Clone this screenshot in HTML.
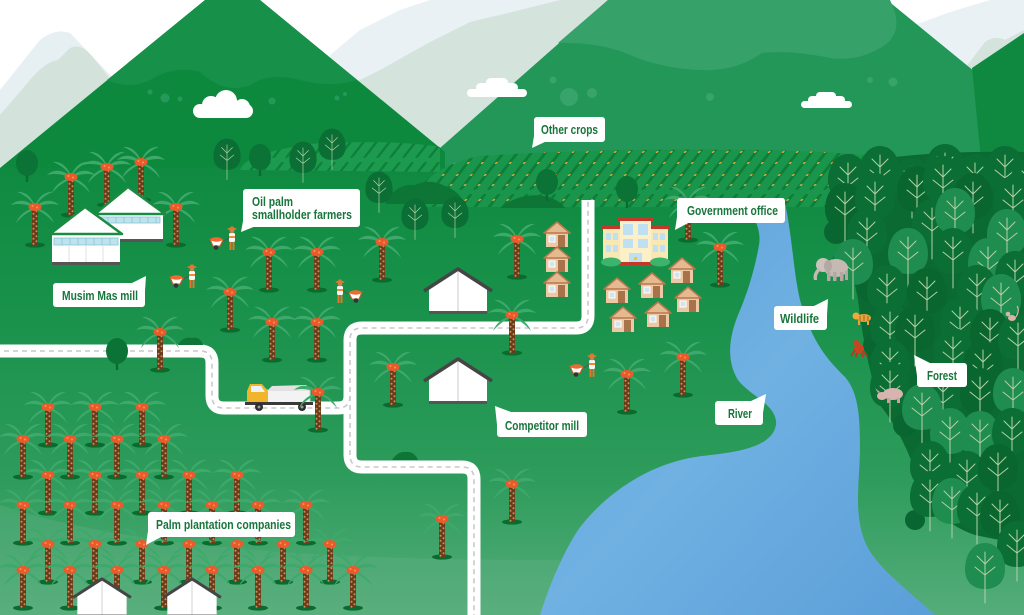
<!DOCTYPE html>
<html><head><meta charset="utf-8"><style>
html,body{margin:0;padding:0;background:#fff;}
svg{display:block;}
.lb{font-family:"Liberation Sans Narrow","Liberation Sans",sans-serif;font-weight:bold;font-size:13px;fill:#17763b;}
</style></head><body>
<svg width="1024" height="615" viewBox="0 0 1024 615" xmlns="http://www.w3.org/2000/svg">
<defs>
<linearGradient id="gr" x1="0" y1="165" x2="0" y2="615" gradientUnits="userSpaceOnUse">
<stop offset="0" stop-color="#0f8a40"/><stop offset=".35" stop-color="#1a924c"/><stop offset=".7" stop-color="#2e9c5c"/><stop offset="1" stop-color="#55ad7a"/>
</linearGradient>
<linearGradient id="rv" x1="0" y1="0" x2="1" y2="1">
<stop offset="0" stop-color="#5a9fd8"/><stop offset=".5" stop-color="#70b1e2"/><stop offset="1" stop-color="#5b9fd9"/>
</linearGradient>
<pattern id="bark" width="6" height="5" patternUnits="userSpaceOnUse"><rect width="6" height="5" fill="#6b3c1c"/><circle cx="1.5" cy="1.3" r="1" fill="#c89057"/><circle cx="4.5" cy="3.8" r="1" fill="#c89057"/></pattern>
<pattern id="crop" width="14" height="48" patternUnits="userSpaceOnUse" patternTransform="skewX(-38)">
<rect x="5" y="2" width="3.5" height="44" rx="1.7" fill="#0d7d37"/>
<circle cx="6" cy="8" r="1.1" fill="#f2a53a"/><circle cx="7.5" cy="19" r="1.1" fill="#f2a53a"/><circle cx="6" cy="31" r="1.1" fill="#f2a53a"/><circle cx="7.5" cy="41" r="1.1" fill="#f2a53a"/>
</pattern>
<pattern id="crop2" width="13" height="40" patternUnits="userSpaceOnUse" patternTransform="skewX(-38)">
<rect x="5" y="2" width="3" height="36" rx="1.5" fill="#0e8039"/>
</pattern>
<g id="palm">
 <ellipse cx="0" cy="0" rx="10" ry="2.6" fill="#0a6b2f"/>
 <g fill="#3ea96b">
  <path d="M0,-38 C-8,-46 -18,-46 -24,-40 C-16,-42 -8,-41 0,-37Z"/>
  <path d="M0,-38 C8,-46 18,-46 24,-40 C16,-42 8,-41 0,-37Z"/>
  <path d="M0,-39 C-4,-50 -12,-54 -18,-53 C-10,-50 -5,-46 0,-38Z"/>
  <path d="M0,-39 C4,-50 12,-54 18,-53 C10,-50 5,-46 0,-38Z"/>
  <path d="M0,-37 C-8,-36 -16,-30 -19,-22 C-13,-29 -7,-33 0,-36Z"/>
  <path d="M0,-37 C8,-36 16,-30 19,-22 C13,-29 7,-33 0,-36Z"/>
 </g>
 <rect x="-3" y="-37" width="6" height="37" fill="url(#bark)"/>
 <ellipse cx="0" cy="-38" rx="6.5" ry="4" fill="#ea5a2a"/>
 <circle cx="-2.5" cy="-39" r="1" fill="#f7935e"/><circle cx="2" cy="-37.5" r="1" fill="#f7935e"/>
</g>
<g id="ftD">
 <path d="M0,-24 C13,-24 20,-11 20,2 C20,16 11,22 0,22 C-11,22 -20,16 -20,2 C-20,-11 -13,-24 0,-24Z" fill="#0b6e35"/>
 <path d="M0,-15 V36 M0,-3 L-8,-11 M0,-3 L8,-11 M0,8 L-10,0 M0,8 L10,0" stroke="#b3d1a6" stroke-width="1" fill="none" stroke-linecap="round"/>
</g>
<g id="ftM">
 <path d="M0,-24 C13,-24 20,-11 20,2 C20,16 11,22 0,22 C-11,22 -20,16 -20,2 C-20,-11 -13,-24 0,-24Z" fill="#09662f"/>
 <path d="M0,-15 V36 M0,-3 L-8,-11 M0,-3 L8,-11 M0,8 L-10,0 M0,8 L10,0" stroke="#b3d1a6" stroke-width="1" fill="none" stroke-linecap="round"/>
</g>
<g id="ftL">
 <path d="M0,-24 C13,-24 20,-11 20,2 C20,16 11,22 0,22 C-11,22 -20,16 -20,2 C-20,-11 -13,-24 0,-24Z" fill="#1f8c50"/>
 <path d="M0,-15 V36 M0,-3 L-8,-11 M0,-3 L8,-11 M0,8 L-10,0 M0,8 L10,0" stroke="#b3d1a6" stroke-width="1" fill="none" stroke-linecap="round"/>
</g>
<g id="dt">
 <rect x="-1.2" y="5" width="2.4" height="14" fill="#0a6b2f"/>
 <ellipse cx="0" cy="0" rx="11" ry="13" fill="#0b7335"/>
</g>
<g id="house">
 <rect x="-11" y="-15" width="22" height="15" fill="#ecc9a4"/>
 <polygon points="-13,-14 0,-25 13,-14" fill="#e6ba90" stroke="#b8784e" stroke-width="1.5" stroke-linejoin="round"/>
 <rect x="1" y="-12" width="7" height="12" fill="#a8724a"/>
 <rect x="-8" y="-11" width="6" height="6" fill="#cfe5f3" stroke="#fff" stroke-width="1"/>
</g>
<g id="shed">
 <polygon points="-29,0 0,-18 29,0 29,25 -29,25" fill="#fff"/>
 <line x1="0" y1="-17" x2="0" y2="25" stroke="#dcdcdc" stroke-width="1.5"/>
 <polyline points="-34,3 0,-19 34,3" fill="none" stroke="#454545" stroke-width="3.5" stroke-linejoin="round"/>
 <rect x="-29" y="23" width="58" height="3" fill="#555"/>
</g>
<g id="fm">
 <line x1="-8" y1="-9" x2="-2" y2="-13" stroke="#555" stroke-width="1"/>
 <path d="M-22,-11 L-9,-10 L-12,-4 L-19,-4Z" fill="#fff" stroke="#d9582a" stroke-width="1"/>
 <ellipse cx="-15.5" cy="-10.5" rx="6" ry="2.2" fill="#ef6a30"/>
 <circle cx="-16" cy="-2.5" r="2.3" fill="#333"/>
 <rect x="-2.5" y="-9" width="2" height="9" fill="#e0782f"/>
 <rect x="0.5" y="-9" width="2" height="9" fill="#e0782f"/>
 <rect x="-3" y="-17" width="6" height="9" rx="1.5" fill="#f6f6f6"/>
 <rect x="-3" y="-14" width="6" height="2" fill="#f08a3a"/>
 <circle cx="0" cy="-19" r="2.3" fill="#c78450"/>
 <ellipse cx="0" cy="-21" rx="4.5" ry="1.2" fill="#e0782f"/>
 <rect x="-1.8" y="-23.5" width="3.6" height="2.6" rx="1" fill="#e0782f"/>
</g>
</defs>

<rect width="1024" height="615" fill="#fff"/>

<!-- distant pale mountains -->
<path d="M0,90 L40,40 Q55,28 70,33 L115,80 L115,170 L0,170Z" fill="#e6eff2"/>
<path d="M0,115 L30,80 Q45,62 58,60 L70,48 Q82,42 95,60 L115,85 L115,170 L0,170Z" fill="#d3e2da"/>
<path d="M330,55 L360,30 L400,10 L430,0 L620,0 V160 H330Z" fill="#e9f1f4"/>
<path d="M340,90 L380,70 L430,42 L470,22 L512,12 L560,0 L620,0 V160 H340Z" fill="#d4e3db"/>
<path d="M915,25 L950,12 L990,0 L1024,0 V120 H915Z" fill="#e9f1f4"/>
<path d="M960,75 L985,42 Q995,35 1005,40 L1024,30 V120 H960Z" fill="#d4e3db"/>

<!-- right big mountain -->
<path d="M440,148 L608,0 L887,0 L1024,112 V200 H440Z" fill="#229758"/>
<path d="M608,0 L890,0 Q905,30 885,45 Q860,62 830,58 Q790,50 762,53 Q735,72 700,70 Q660,68 630,55 Q600,42 558,43 Z" fill="#36a169"/>
<path d="M972,68 L1024,33 V200 H985Z" fill="#0f893f"/>
<!-- left big mountain -->
<path d="M0,168 L205,0 L260,0 L445,152 L445,175 L0,175Z" fill="#0d893d"/>
<path d="M205,0 L260,0 L357,80 Q330,88 300,80 Q270,72 250,85 Q225,95 200,72 Q175,65 150,80 Q130,90 107,80 Z" fill="#17914a"/>

<g fill="#25985a"><circle cx="150" cy="92" r="2.5"/><circle cx="165" cy="98" r="4.5"/><circle cx="180" cy="99" r="2.5"/><circle cx="272" cy="101" r="3.5"/><circle cx="337" cy="98" r="2.5"/><circle cx="345" cy="94" r="2"/></g>
<g fill="#38a36a"><circle cx="553" cy="80" r="3.5"/><circle cx="569" cy="97" r="9"/><circle cx="592" cy="93" r="5"/><circle cx="710" cy="97" r="4"/><circle cx="870" cy="80" r="3"/><circle cx="893" cy="82" r="4.5"/></g>

<!-- clouds -->
<g fill="#fff">
<rect x="193" y="104" width="60" height="14" rx="7"/><circle cx="211" cy="105" r="9"/><circle cx="226" cy="101" r="11"/><circle cx="242" cy="107" r="8"/>
<rect x="467" y="89" width="60" height="8" rx="4"/><rect x="476" y="83" width="42" height="9" rx="4.5"/><rect x="486" y="78" width="22" height="9" rx="4.5"/>
<rect x="801" y="101" width="51" height="7" rx="3.5"/><rect x="808" y="96" width="37" height="8" rx="4"/><rect x="816" y="92" width="20" height="8" rx="4"/>
</g>

<!-- ground -->
<rect x="0" y="168" width="1024" height="447" fill="url(#gr)"/>
<path d="M0,505 C120,545 300,560 560,560 L560,615 L0,615Z" fill="#62b385" opacity=".35"/>

<!-- crop fields -->
<path d="M240,170 Q245,152 320,143 Q400,140 440,147 L440,172 Z" fill="#1c9a4e"/>
<path d="M240,170 Q245,152 320,143 Q400,140 440,147 L440,172 Z" fill="url(#crop2)"/>
<path d="M405,205 Q430,165 480,156 Q600,148 760,150 Q860,152 910,160 L910,207 L405,207Z" fill="#1a964c"/>
<path d="M405,205 Q430,165 480,156 Q600,148 760,150 Q860,152 910,160 L910,207 L405,207Z" fill="url(#crop)"/>
<path d="M385,204 Q395,183 415,185 Q430,178 445,186 Q458,190 465,204Z" fill="#0d7636"/>
<path d="M500,208 Q520,192 545,196 Q560,200 565,208Z" fill="#0d7636"/>

<!-- river -->
<path d="M740,198 C752,212 762,228 759,245 C755,268 748,292 738,315 C728,340 727,362 738,380 C750,396 778,405 776,425 C772,446 742,452 702,456 C652,462 606,492 578,530 C560,558 548,590 540,615 L935,615 C910,592 880,570 868,548 C852,518 860,480 860,448 C860,415 858,392 845,377 C822,355 810,335 800,300 C793,270 793,240 784,198 Z" fill="url(#rv)"/>

<!-- roads -->
<g fill="none" stroke-linecap="butt">
<path d="M-5,351 H200 Q212,351 212,363 V396 Q212,408 224,408 H338 Q350,408 350,396 V340 Q350,328 362,328 H576 Q588,328 588,316 V200" stroke="#fff" stroke-width="13"/>
<path d="M350,396 V455 Q350,467 362,467 H462 Q474,467 474,479 V620" stroke="#fff" stroke-width="13"/>
<path d="M-5,351 H200 Q212,351 212,363 V396 Q212,408 224,408 H338 Q350,408 350,396 V340 Q350,328 362,328 H576 Q588,328 588,316 V200" stroke="#c9c9c9" stroke-width="1.6" stroke-dasharray="5 4"/>
<path d="M350,396 V455 Q350,467 362,467 H462 Q474,467 474,479 V620" stroke="#c9c9c9" stroke-width="1.6" stroke-dasharray="5 4"/>
</g>

<!-- top trees -->
<use href="#dt" x="27" y="163"/>
<use href="#dt" x="260" y="157"/>
<use href="#dt" x="547" y="182"/>
<use href="#dt" x="627" y="189"/>
<use href="#dt" x="849" y="173"/>
<use href="#ftD" transform="translate(227,155) scale(.68)"/>
<use href="#ftD" transform="translate(303,158) scale(.68)"/>
<use href="#ftD" transform="translate(332,145) scale(.68)"/>
<use href="#ftD" transform="translate(379,188) scale(.68)"/>
<use href="#ftD" transform="translate(415,215) scale(.68)"/>
<use href="#ftD" transform="translate(455,213) scale(.68)"/>
<path d="M178,345 Q183,336 192,338 Q200,336 203,345Z" fill="#0d7636"/>
<path d="M392,460 Q398,451 406,452 Q414,451 418,460Z" fill="#0d7636"/>
<use href="#dt" x="117" y="351"/>

<!-- upper palms -->
<use href="#palm" x="71" y="215"/><use href="#palm" x="107" y="205"/><use href="#palm" x="141" y="200"/>
<use href="#palm" x="35" y="245"/><use href="#palm" x="176" y="245"/>
<use href="#palm" x="269" y="290"/><use href="#palm" x="317" y="290"/><use href="#palm" x="382" y="280"/>
<use href="#palm" x="230" y="330"/><use href="#palm" x="272" y="360"/><use href="#palm" x="317" y="360"/>
<use href="#palm" x="160" y="370"/><use href="#palm" x="393" y="405"/>
<use href="#palm" x="517" y="277"/><use href="#palm" x="512" y="353"/>
<use href="#palm" x="688" y="240"/><use href="#palm" x="720" y="285"/>
<use href="#palm" x="627" y="412"/><use href="#palm" x="683" y="395"/>
<use href="#palm" x="512" y="522"/><use href="#palm" x="442" y="557"/>

<!-- Musim Mas mill -->
<g>
<rect x="97" y="212" width="66" height="30" fill="#fff"/>
<polygon points="95,214 128,187 165,214" fill="#fff" stroke="#1b8a42" stroke-width="2.5" stroke-linejoin="round"/>
<rect x="100" y="217" width="60" height="6" fill="#bfe3ee" stroke="#86c6d3" stroke-width=".8"/>
<path d="M108,217V223M116,217V223M124,217V223M132,217V223M140,217V223M148,217V223M156,217V223" stroke="#86c6d3" stroke-width=".8"/>
<rect x="97" y="239" width="66" height="3" fill="#555"/>
<rect x="52" y="232" width="68" height="33" fill="#fff"/>
<polygon points="50,234 85,207 122,234" fill="#fff" stroke="#1b8a42" stroke-width="2.5" stroke-linejoin="round"/>
<rect x="54" y="238" width="64" height="7" fill="#bfe3ee" stroke="#86c6d3" stroke-width=".8"/>
<path d="M62,238V245M70,238V245M78,238V245M86,238V245M94,238V245M102,238V245M110,238V245" stroke="#86c6d3" stroke-width=".8"/>
<path d="M69,246V262M86,246V262M103,246V262" stroke="#e2e2e2" stroke-width="1"/>
<rect x="52" y="262" width="68" height="3" fill="#555"/>
</g>

<!-- houses -->
<use href="#house" x="557" y="247"/><use href="#house" x="557" y="272"/><use href="#house" x="557" y="297"/>
<use href="#house" x="682" y="283"/><use href="#house" x="652" y="298"/><use href="#house" x="617" y="303"/>
<use href="#house" x="688" y="312"/><use href="#house" x="623" y="332"/><use href="#house" x="658" y="327"/>

<!-- government office -->
<g>
<rect x="603" y="228" width="18" height="35" fill="#f8e9b4"/>
<rect x="650" y="228" width="18" height="35" fill="#f8e9b4"/>
<rect x="601" y="225" width="22" height="4" fill="#c4382b"/>
<rect x="648" y="225" width="22" height="4" fill="#c4382b"/>
<rect x="620" y="220" width="31" height="44" fill="#fbf0c8"/>
<rect x="617" y="217" width="37" height="4" fill="#c4382b"/>
<g fill="#bfe0f2">
<rect x="623" y="224" width="10" height="11"/><rect x="638" y="224" width="10" height="11"/>
<rect x="623" y="239" width="10" height="9"/><rect x="638" y="239" width="10" height="9"/>
<rect x="606" y="233" width="5" height="7"/><rect x="613" y="233" width="5" height="7"/>
<rect x="606" y="245" width="5" height="7"/><rect x="613" y="245" width="5" height="7"/>
<rect x="653" y="233" width="5" height="7"/><rect x="660" y="233" width="5" height="7"/>
<rect x="653" y="245" width="5" height="7"/><rect x="660" y="245" width="5" height="7"/>
<rect x="629" y="253" width="13" height="11"/>
</g>
<rect x="634" y="257" width="3" height="3" fill="#f0c53a"/>
<rect x="603" y="262" width="65" height="3" fill="#c4382b"/>
<ellipse cx="611" cy="262" rx="10" ry="4.5" fill="#3cb46c"/>
<ellipse cx="660" cy="262" rx="10" ry="4.5" fill="#3cb46c"/>
</g>

<use href="#shed" x="458" y="288"/>
<use href="#shed" x="458" y="378"/>

<use href="#fm" x="232" y="250"/>
<use href="#fm" x="192" y="288"/>
<use href="#fm" transform="translate(340,303) scale(-1,1)"/>
<use href="#fm" x="592" y="377"/>

<!-- truck -->
<g>
<rect x="266" y="390" width="44" height="14" fill="#f3f3f3" stroke="#cfcfcf" stroke-width="1"/>
<path d="M268,390 L312,390 L306,385 L272,386Z" fill="#e3e3e3"/>
<path d="M247,404 V391 L250,384 H262 L268,391 V404Z" fill="#f1b42c"/>
<path d="M251,386 H261 L265,392 H251Z" fill="#eaf3f7"/>
<rect x="245" y="402" width="68" height="3" fill="#3a3a3a"/>
<circle cx="259" cy="407" r="4" fill="#2d2d2d"/><circle cx="259" cy="407" r="1.5" fill="#999"/>
<circle cx="302" cy="407" r="4" fill="#2d2d2d"/><circle cx="302" cy="407" r="1.5" fill="#999"/>
</g>
<use href="#palm" x="318" y="430"/>

<!-- plantation -->
<use href="#palm" x="48" y="445"/><use href="#palm" x="95" y="445"/><use href="#palm" x="142" y="445"/>
<use href="#palm" x="23" y="477"/><use href="#palm" x="70" y="477"/><use href="#palm" x="117" y="477"/><use href="#palm" x="164" y="477"/>
<use href="#palm" x="48" y="513"/><use href="#palm" x="95" y="513"/><use href="#palm" x="142" y="513"/><use href="#palm" x="189" y="513"/><use href="#palm" x="237" y="513"/>
<use href="#palm" x="23" y="543"/><use href="#palm" x="70" y="543"/><use href="#palm" x="117" y="543"/><use href="#palm" x="164" y="543"/><use href="#palm" x="212" y="543"/><use href="#palm" x="258" y="543"/><use href="#palm" x="306" y="543"/>
<use href="#palm" x="48" y="582"/><use href="#palm" x="95" y="582"/><use href="#palm" x="142" y="582"/><use href="#palm" x="189" y="582"/><use href="#palm" x="237" y="582"/><use href="#palm" x="283" y="582"/><use href="#palm" x="330" y="582"/>
<use href="#palm" x="23" y="608"/><use href="#palm" x="70" y="608"/><use href="#palm" x="117" y="608"/><use href="#palm" x="164" y="608"/><use href="#palm" x="212" y="608"/><use href="#palm" x="258" y="608"/><use href="#palm" x="306" y="608"/><use href="#palm" x="353" y="608"/>
<use href="#shed" transform="translate(102,595) scale(.85)"/>
<use href="#shed" transform="translate(192,595) scale(.85)"/>

<!-- forest backdrop -->
<path d="M838,168 Q900,150 1024,152 V545 L975,535 Q930,520 915,470 Q900,430 880,405 Q865,360 858,300 Q848,250 838,215 Z" fill="#0a6a31"/>
<g fill="#0a6630">
<circle cx="836" cy="232" r="12"/><circle cx="842" cy="262" r="10"/><circle cx="870" cy="290" r="12"/><circle cx="875" cy="345" r="12"/><circle cx="905" cy="425" r="12"/><circle cx="915" cy="520" r="10"/>
</g>

<!-- forest trees -->
<use href="#ftD" x="848" y="178"/><use href="#ftD" x="880" y="170"/><use href="#ftD" x="912" y="182"/><use href="#ftD" x="945" y="168"/><use href="#ftD" x="975" y="178"/><use href="#ftD" x="1005" y="170"/><use href="#ftD" x="1030" y="182"/>
<use href="#ftM" x="845" y="207"/><use href="#ftD" x="875" y="197"/><use href="#ftM" x="917" y="190"/><use href="#ftD" x="943" y="180"/><use href="#ftM" x="973" y="197"/><use href="#ftD" x="1013" y="200"/>
<use href="#ftD" x="867" y="233"/><use href="#ftD" x="932" y="223"/><use href="#ftL" x="955" y="212"/><use href="#ftL" x="1007" y="233"/>
<use href="#ftL" x="853" y="263"/><use href="#ftL" x="908" y="252"/><use href="#ftD" x="953" y="252"/><use href="#ftL" x="988" y="262"/><use href="#ftD" x="1015" y="275"/>
<use href="#ftD" x="887" y="289"/><use href="#ftM" x="927" y="292"/><use href="#ftD" x="977" y="289"/><use href="#ftL" x="1001" y="298"/>
<use href="#ftD" x="890" y="327"/><use href="#ftM" x="915" y="330"/><use href="#ftD" x="960" y="322"/><use href="#ftM" x="990" y="333"/><use href="#ftD" x="1018" y="338"/>
<use href="#ftD" x="890" y="363"/><use href="#ftD" x="953" y="352"/><use href="#ftM" x="983" y="365"/>
<use href="#ftD" x="890" y="386"/><use href="#ftD" x="943" y="395"/><use href="#ftM" x="980" y="392"/><use href="#ftL" x="1013" y="392"/>
<use href="#ftL" x="922" y="408"/>
<use href="#ftL" x="950" y="432"/><use href="#ftL" x="980" y="435"/><use href="#ftD" x="1012" y="432"/>
<use href="#ftD" x="930" y="465"/><use href="#ftD" x="967" y="475"/><use href="#ftM" x="998" y="468"/>
<use href="#ftD" x="930" y="495"/><use href="#ftL" x="952" y="502"/><use href="#ftD" x="977" y="508"/><use href="#ftM" x="1000" y="515"/>
<use href="#ftD" x="1017" y="545"/>
<use href="#ftL" x="985" y="567"/>

<!-- animals -->
<g>
<ellipse cx="836" cy="268" rx="12" ry="9" fill="#c4bab3"/>
<circle cx="823" cy="265" r="7" fill="#cbc2bb"/>
<ellipse cx="828" cy="266" rx="4" ry="6" fill="#b3a9a2"/>
<path d="M818,268 Q812,274 814,280 L817,280 Q816,274 821,270Z" fill="#c4bab3"/>
<rect x="827" y="272" width="3.5" height="9" fill="#b3a9a2"/><rect x="833" y="272" width="3.5" height="9" fill="#b3a9a2"/><rect x="840" y="272" width="3.5" height="9" fill="#b3a9a2"/><rect x="845" y="271" width="3" height="9" fill="#b3a9a2"/>
<ellipse cx="864" cy="318" rx="7" ry="4" fill="#e9a33a"/><circle cx="856" cy="316" r="3.5" fill="#eeaa40"/>
<rect x="858" y="320" width="2" height="5" fill="#e9a33a"/><rect x="867" y="320" width="2" height="5" fill="#e9a33a"/>
<path d="M860,316 V321 M864,315 V321 M868,316 V321" stroke="#8a5a20" stroke-width=".8"/>
<ellipse cx="859" cy="349" rx="5" ry="5" fill="#c9451f"/><circle cx="856" cy="343" r="3" fill="#c9451f"/>
<path d="M855,350 L851,356 M863,351 L867,356 M857,353 L856,357 M862,353 L863,357" stroke="#b23c1a" stroke-width="2"/>
<ellipse cx="893" cy="394" rx="10" ry="6" fill="#d8b4b0"/><ellipse cx="882" cy="396" rx="5" ry="4" fill="#d8b4b0"/>
<path d="M878,393 L875,388 L880,392Z" fill="#c9a29e"/>
<rect x="887" y="398" width="3" height="5" fill="#c9a29e"/><rect x="897" y="398" width="3" height="5" fill="#c9a29e"/>
<ellipse cx="1012" cy="318" rx="4" ry="3" fill="#d9b5a7"/><circle cx="1008" cy="314" r="2.3" fill="#d9b5a7"/>
<path d="M1016,317 Q1020,310 1017,306" stroke="#d9b5a7" stroke-width="1.2" fill="none"/>
</g>

<!-- labels -->
<g fill="#fff">
<rect x="534" y="117" width="71" height="25" rx="3"/><polygon points="534,136 532,148 547,141"/>
<rect x="243" y="189" width="117" height="38" rx="3"/><polygon points="243,221 241,232 256,226"/>
<rect x="53" y="283" width="92" height="24" rx="3"/><polygon points="132,283 146,276 145,291"/>
<rect x="677" y="198" width="108" height="25" rx="3"/><polygon points="677,217 675,230 690,222"/>
<rect x="774" y="306" width="53" height="24" rx="3"/><polygon points="814,306 828,299 827,315"/>
<rect x="917" y="363" width="50" height="24" rx="3"/><polygon points="917,376 914,355 930,363"/>
<rect x="715" y="401" width="48" height="24" rx="3"/><polygon points="751,401 766,394 763,413"/>
<rect x="497" y="412" width="90" height="25" rx="3"/><polygon points="497,425 495,406 511,412"/>
<rect x="148" y="512" width="147" height="25" rx="3"/><polygon points="148,531 146,545 161,537"/>
</g>
<g class="lb">
<text x="541" y="134" textLength="57" lengthAdjust="spacingAndGlyphs">Other crops</text>
<text x="252" y="206" textLength="41" lengthAdjust="spacingAndGlyphs">Oil palm</text>
<text x="252" y="219" textLength="100" lengthAdjust="spacingAndGlyphs">smallholder farmers</text>
<text x="62" y="300" textLength="76" lengthAdjust="spacingAndGlyphs">Musim Mas mill</text>
<text x="687" y="215" textLength="91" lengthAdjust="spacingAndGlyphs">Government office</text>
<text x="780" y="323" textLength="39" lengthAdjust="spacingAndGlyphs">Wildlife</text>
<text x="927" y="380" textLength="30" lengthAdjust="spacingAndGlyphs">Forest</text>
<text x="728" y="418" textLength="24" lengthAdjust="spacingAndGlyphs">River</text>
<text x="505" y="430" textLength="74" lengthAdjust="spacingAndGlyphs">Competitor mill</text>
<text x="156" y="529" textLength="135" lengthAdjust="spacingAndGlyphs">Palm plantation companies</text>
</g>
</svg>
</body></html>
